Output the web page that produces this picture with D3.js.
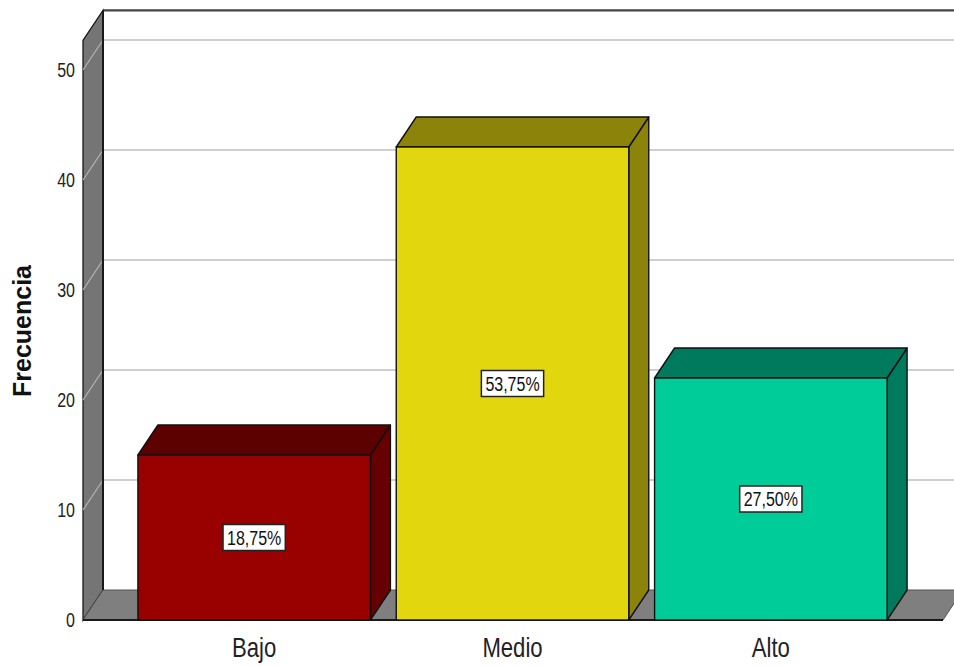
<!DOCTYPE html>
<html>
<head>
<meta charset="utf-8">
<script src="https://cdn.jsdelivr.net/npm/d3@7"></script>
<style>
  html, body { margin: 0; padding: 0; background: #fff; }
  svg { display: block; }
  text { font-family: "Liberation Sans", Arial, sans-serif; }
</style>
</head>
<body>
<script>
// Nivel: frecuencia por categoría
const categories = ["Bajo", "Medio", "Alto"];
const frequencies = [15, 43, 22];
const percentLabels = ["18,75%", "53,75%", "27,50%"];
const yTicks = [0, 10, 20, 30, 40, 50];
const frontColors = ["#990000", "#e2d60f", "#00cc99"];
const topColors = ["#5c0000", "#8c840a", "#007a5c"];
const sideColors = ["#660000", "#8c840a", "#007a5c"];

const W = 954, H = 666;
const depthX = 20, depthY = -30;     // 3D offset for the back plane
const axisMax = 52.7;

const svg = d3.select("body").append("svg").attr("width", W).attr("height", H);

const x = d3.scaleBand().domain(categories).range([125, 900])
  .paddingInner(0.1).paddingOuter(0.05);
const y = d3.scaleLinear().domain([0, axisMax]).range([620, 40.3]);

const x0 = 83, xEnd = 943;
const yBase = y(0), yTop = y(axisMax);

// Left wall
svg.append("polygon")
  .attr("points", [[x0, yTop], [x0 + depthX, yTop + depthY], [x0 + depthX, yBase + depthY], [x0, yBase]].join(" "))
  .attr("fill", "#757575").attr("stroke", "#1a1a1a").attr("stroke-width", 1.3);

// Floor
svg.append("polygon")
  .attr("points", [[x0, yBase], [x0 + depthX, yBase + depthY], [xEnd + depthX, yBase + depthY], [xEnd, yBase]].join(" "))
  .attr("fill", "#7f7f7f").attr("stroke", "#555").attr("stroke-width", 1);

// Gridlines on the back wall and the left wall
const grid = yTicks.filter(t => t > 0);
svg.selectAll(".grid").data(grid).join("line").attr("class", "grid")
  .attr("x1", x0 + depthX).attr("x2", W)
  .attr("y1", d => y(d) + depthY).attr("y2", d => y(d) + depthY)
  .attr("stroke", "#cfcfcf").attr("stroke-width", 2);
svg.selectAll(".gridside").data(grid).join("line").attr("class", "gridside")
  .attr("x1", x0).attr("x2", x0 + depthX)
  .attr("y1", d => y(d)).attr("y2", d => y(d) + depthY)
  .attr("stroke", "#b5b5b5").attr("stroke-width", 1.2);

// Back wall top edge and left edge
svg.append("line").attr("x1", x0 + depthX).attr("x2", W)
  .attr("y1", yTop + depthY).attr("y2", yTop + depthY)
  .attr("stroke", "#444").attr("stroke-width", 2.2);
svg.append("line").attr("x1", x0 + depthX).attr("x2", x0 + depthX)
  .attr("y1", yTop + depthY).attr("y2", yBase + depthY)
  .attr("stroke", "#1a1a1a").attr("stroke-width", 2);

// Front floor edge
svg.append("line").attr("x1", x0).attr("x2", xEnd)
  .attr("y1", yBase).attr("y2", yBase)
  .attr("stroke", "#1a1a1a").attr("stroke-width", 2.2);

// Bars
const bw = x.bandwidth();
const bars = svg.selectAll(".bar").data(categories).join("g").attr("class", "bar");
bars.append("polygon")
  .attr("points", (c, i) => {
    const bx = x(c), by = y(frequencies[i]);
    return [[bx + bw, by], [bx + bw + depthX, by + depthY], [bx + bw + depthX, yBase + depthY], [bx + bw, yBase]].join(" ");
  })
  .attr("fill", (c, i) => sideColors[i]).attr("stroke", "#111").attr("stroke-width", 1.4)
  .attr("stroke-linejoin", "round");
bars.append("polygon")
  .attr("points", (c, i) => {
    const bx = x(c), by = y(frequencies[i]);
    return [[bx, by], [bx + depthX, by + depthY], [bx + bw + depthX, by + depthY], [bx + bw, by]].join(" ");
  })
  .attr("fill", (c, i) => topColors[i]).attr("stroke", "#111").attr("stroke-width", 1.4)
  .attr("stroke-linejoin", "round");
bars.append("rect")
  .attr("x", c => x(c)).attr("y", (c, i) => y(frequencies[i]))
  .attr("width", bw).attr("height", (c, i) => yBase - y(frequencies[i]))
  .attr("fill", (c, i) => frontColors[i]).attr("stroke", "#111").attr("stroke-width", 1.4);

// Percentage labels
const sx = 0.8;
bars.each(function (c, i) {
  const g = d3.select(this);
  const cx = x(c) + bw / 2;
  const cy = (y(frequencies[i]) + yBase) / 2;
  const lg = g.append("g").attr("transform", `translate(${cx},${cy})`);
  const t = lg.append("text").attr("text-anchor", "middle").attr("dy", "0.36em")
    .attr("transform", `scale(${sx},1)`)
    .attr("font-size", 20).attr("fill", "#111").text(percentLabels[i]);
  const tw = t.node().getComputedTextLength() * sx;
  lg.insert("rect", "text")
    .attr("x", -tw / 2 - 4).attr("y", -13).attr("width", tw + 8).attr("height", 26)
    .attr("fill", "#fff").attr("stroke", "#222").attr("stroke-width", 1.5);
});

// Y axis tick labels
svg.selectAll(".ytick").data(yTicks).join("text").attr("class", "ytick")
  .attr("transform", d => `translate(75,${y(d)}) scale(${sx},1)`)
  .attr("text-anchor", "end").attr("dy", "0.36em")
  .attr("font-size", 20).attr("fill", "#222").text(d => d);

// Category labels
svg.selectAll(".xlab").data(categories).join("text").attr("class", "xlab")
  .attr("transform", c => `translate(${x(c) + bw / 2},657) scale(0.82,1)`)
  .attr("text-anchor", "middle")
  .attr("font-size", 27).attr("fill", "#222").text(c => c);

// Axis title
svg.append("text")
  .attr("transform", "translate(31,331) rotate(-90)")
  .attr("text-anchor", "middle")
  .attr("font-size", 25).attr("font-weight", "bold").attr("fill", "#111")
  .text("Frecuencia");
</script>
</body>
</html>
